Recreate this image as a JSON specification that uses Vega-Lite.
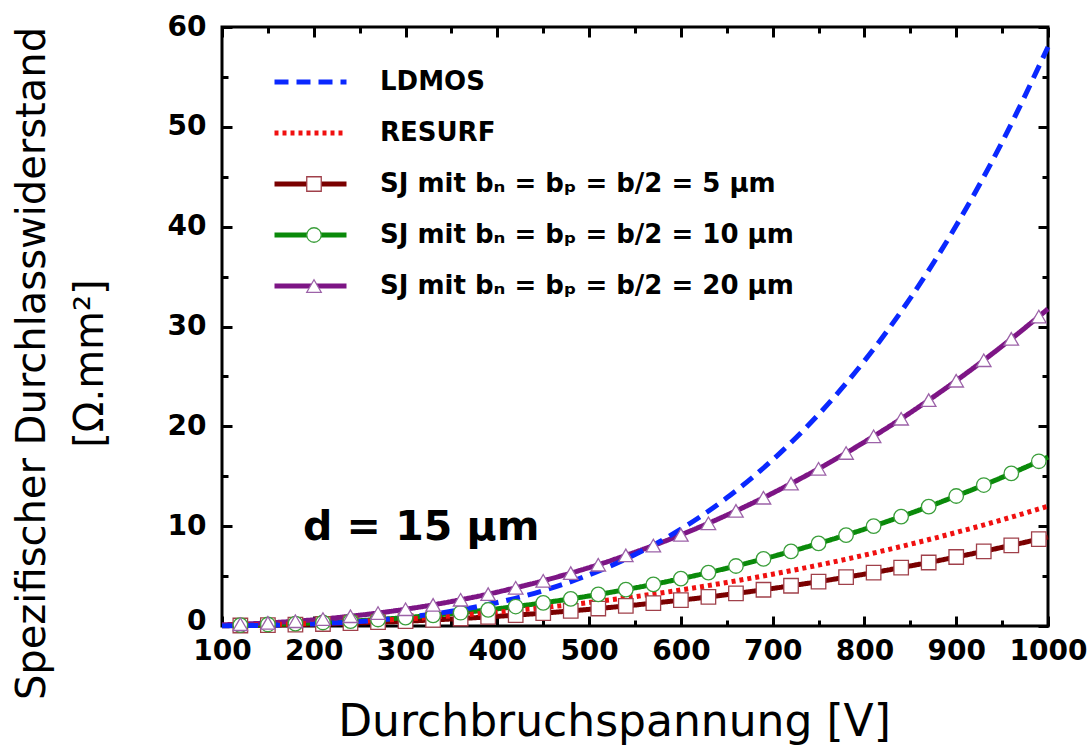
{
  "$schema": "https://vega.github.io/schema/vega-lite/v6.json",
  "width": 826,
  "height": 599,
  "autosize": "none",
  "padding": {"left": 222, "top": 27, "right": 40, "bottom": 119},
  "background": "white",
  "config": {
    "view": {"stroke": "black", "strokeWidth": 3},
    "axis": {"domain": false, "grid": false, "tickColor": "black", "tickWidth": 3, "labelFont": "DejaVu Sans", "labelFontWeight": "bold", "labelFontSize": 28, "labelColor": "black", "titleColor": "black"},
    "legend": {"labelFont": "DejaVu Sans", "labelFontWeight": "bold", "labelFontSize": 26, "labelColor": "black"}
  },
  "data": {"values": [
    {"s":"SJ5","V":100,"R":0.03},{"s":"SJ5","V":120,"R":0.05},{"s":"SJ5","V":150,"R":0.09},{"s":"SJ5","V":180,"R":0.14},{"s":"SJ5","V":210,"R":0.2},{"s":"SJ5","V":240,"R":0.28},{"s":"SJ5","V":270,"R":0.38},{"s":"SJ5","V":300,"R":0.48},{"s":"SJ5","V":330,"R":0.61},{"s":"SJ5","V":360,"R":0.75},{"s":"SJ5","V":390,"R":0.91},{"s":"SJ5","V":420,"R":1.09},{"s":"SJ5","V":450,"R":1.29},{"s":"SJ5","V":480,"R":1.51},{"s":"SJ5","V":510,"R":1.75},{"s":"SJ5","V":540,"R":2.01},{"s":"SJ5","V":570,"R":2.29},{"s":"SJ5","V":600,"R":2.59},{"s":"SJ5","V":630,"R":2.91},{"s":"SJ5","V":660,"R":3.26},{"s":"SJ5","V":690,"R":3.63},{"s":"SJ5","V":720,"R":4.03},{"s":"SJ5","V":750,"R":4.44},{"s":"SJ5","V":780,"R":4.89},{"s":"SJ5","V":810,"R":5.35},{"s":"SJ5","V":840,"R":5.85},{"s":"SJ5","V":870,"R":6.36},{"s":"SJ5","V":900,"R":6.91},{"s":"SJ5","V":930,"R":7.48},{"s":"SJ5","V":960,"R":8.08},{"s":"SJ5","V":990,"R":8.7},{"s":"SJ5","V":1000,"R":8.91},
    {"s":"SJ10","V":100,"R":0.05},{"s":"SJ10","V":120,"R":0.09},{"s":"SJ10","V":150,"R":0.15},{"s":"SJ10","V":180,"R":0.24},{"s":"SJ10","V":210,"R":0.35},{"s":"SJ10","V":240,"R":0.48},{"s":"SJ10","V":270,"R":0.65},{"s":"SJ10","V":300,"R":0.84},{"s":"SJ10","V":330,"R":1.07},{"s":"SJ10","V":360,"R":1.33},{"s":"SJ10","V":390,"R":1.62},{"s":"SJ10","V":420,"R":1.95},{"s":"SJ10","V":450,"R":2.32},{"s":"SJ10","V":480,"R":2.72},{"s":"SJ10","V":510,"R":3.16},{"s":"SJ10","V":540,"R":3.65},{"s":"SJ10","V":570,"R":4.17},{"s":"SJ10","V":600,"R":4.74},{"s":"SJ10","V":630,"R":5.35},{"s":"SJ10","V":660,"R":6.01},{"s":"SJ10","V":690,"R":6.72},{"s":"SJ10","V":720,"R":7.47},{"s":"SJ10","V":750,"R":8.27},{"s":"SJ10","V":780,"R":9.11},{"s":"SJ10","V":810,"R":10.01},{"s":"SJ10","V":840,"R":10.96},{"s":"SJ10","V":870,"R":11.96},{"s":"SJ10","V":900,"R":13.02},{"s":"SJ10","V":930,"R":14.12},{"s":"SJ10","V":960,"R":15.28},{"s":"SJ10","V":990,"R":16.5},{"s":"SJ10","V":1000,"R":16.92},
    {"s":"SJ20","V":100,"R":0.12},{"s":"SJ20","V":120,"R":0.18},{"s":"SJ20","V":150,"R":0.31},{"s":"SJ20","V":180,"R":0.48},{"s":"SJ20","V":210,"R":0.7},{"s":"SJ20","V":240,"R":0.98},{"s":"SJ20","V":270,"R":1.3},{"s":"SJ20","V":300,"R":1.68},{"s":"SJ20","V":330,"R":2.12},{"s":"SJ20","V":360,"R":2.63},{"s":"SJ20","V":390,"R":3.19},{"s":"SJ20","V":420,"R":3.83},{"s":"SJ20","V":450,"R":4.53},{"s":"SJ20","V":480,"R":5.3},{"s":"SJ20","V":510,"R":6.14},{"s":"SJ20","V":540,"R":7.07},{"s":"SJ20","V":570,"R":8.06},{"s":"SJ20","V":600,"R":9.13},{"s":"SJ20","V":630,"R":10.29},{"s":"SJ20","V":660,"R":11.53},{"s":"SJ20","V":690,"R":12.85},{"s":"SJ20","V":720,"R":14.26},{"s":"SJ20","V":750,"R":15.75},{"s":"SJ20","V":780,"R":17.33},{"s":"SJ20","V":810,"R":19.0},{"s":"SJ20","V":840,"R":20.76},{"s":"SJ20","V":870,"R":22.62},{"s":"SJ20","V":900,"R":24.57},{"s":"SJ20","V":930,"R":26.62},{"s":"SJ20","V":960,"R":28.76},{"s":"SJ20","V":990,"R":31.0},{"s":"SJ20","V":1000,"R":31.77},
    {"s":"RESURF","V":100,"R":0.05},{"s":"RESURF","V":150,"R":0.14},{"s":"RESURF","V":200,"R":0.27},{"s":"RESURF","V":250,"R":0.46},{"s":"RESURF","V":300,"R":0.71},{"s":"RESURF","V":350,"R":1.02},{"s":"RESURF","V":400,"R":1.39},{"s":"RESURF","V":450,"R":1.84},{"s":"RESURF","V":500,"R":2.35},{"s":"RESURF","V":550,"R":2.94},{"s":"RESURF","V":600,"R":3.61},{"s":"RESURF","V":650,"R":4.36},{"s":"RESURF","V":700,"R":5.19},{"s":"RESURF","V":750,"R":6.1},{"s":"RESURF","V":800,"R":7.1},{"s":"RESURF","V":850,"R":8.19},{"s":"RESURF","V":900,"R":9.37},{"s":"RESURF","V":950,"R":10.64},{"s":"RESURF","V":1000,"R":12.0},
    {"s":"LDMOS","V":100,"R":0.02},{"s":"LDMOS","V":150,"R":0.08},{"s":"LDMOS","V":200,"R":0.21},{"s":"LDMOS","V":250,"R":0.45},{"s":"LDMOS","V":300,"R":0.86},{"s":"LDMOS","V":350,"R":1.47},{"s":"LDMOS","V":400,"R":2.35},{"s":"LDMOS","V":450,"R":3.54},{"s":"LDMOS","V":500,"R":5.13},{"s":"LDMOS","V":550,"R":7.16},{"s":"LDMOS","V":600,"R":9.7},{"s":"LDMOS","V":650,"R":12.84},{"s":"LDMOS","V":700,"R":16.65},{"s":"LDMOS","V":750,"R":21.19},{"s":"LDMOS","V":800,"R":26.56},{"s":"LDMOS","V":850,"R":32.84},{"s":"LDMOS","V":900,"R":40.11},{"s":"LDMOS","V":950,"R":48.47},{"s":"LDMOS","V":1000,"R":58.0}
  ]},
  "layer": [
    {
      "mark": {"type": "line", "strokeWidth": 5, "interpolate": "monotone", "strokeCap": "butt"},
      "encoding": {
        "x": {"field": "V", "type": "quantitative", "scale": {"domain": [100, 1000], "nice": false, "zero": false},
          "axis": {"orient": "bottom", "values": [100,150,200,250,300,350,400,450,500,550,600,650,700,750,800,850,900,950,1000],
            "labelExpr": "datum.value % 100 === 0 ? datum.label : ''", "format": "d",
            "tickSize": {"condition": {"test": "datum.value % 100 === 0", "value": -10}, "value": -6},
            "labelPadding": 21, "labelFlush": false, "labelOverlap": false,
            "title": "Durchbruchspannung [V]", "titleFont": "DejaVu Sans", "titleFontSize": 44, "titleFontWeight": "normal",
            "titleX": 392, "titleY": 109, "titleBaseline": "alphabetic", "titleAlign": "center"}},
        "y": {"field": "R", "type": "quantitative", "scale": {"domain": [0, 60], "nice": false, "zero": false},
          "axis": {"orient": "left", "values": [0,5,10,15,20,25,30,35,40,45,50,55,60],
            "labelExpr": "datum.value % 10 === 0 ? datum.label : ''",
            "labelOffset": {"condition": {"test": "datum.value === 0", "value": -5}, "value": 0},
            "tickSize": {"condition": {"test": "datum.value % 10 === 0", "value": -10}, "value": -6},
            "labelPadding": 26, "labelFlush": false, "labelOverlap": false,
            "title": ["Spezifischer Durchlasswiderstand", "[Ω.mm²]"], "titleFont": "DejaVu Sans", "titleFontSize": 40, "titleFontWeight": "normal",
            "titleLineHeight": 58, "titleX": -210, "titleY": 336, "titleAngle": 270, "titleBaseline": "top", "titleAlign": "center"}},
        "color": {"field": "s", "type": "nominal",
          "scale": {"domain": ["LDMOS", "RESURF", "SJ5", "SJ10", "SJ20"], "range": ["#0a28ff", "#f01010", "#7a0000", "#0a8a0a", "#7d1585"]},
          "legend": {"title": null, "orient": "none", "legendX": 50, "legendY": 42, "padding": 0, "symbolType": "stroke", "symbolSize": 5184, "symbolStrokeWidth": 5, "clipHeight": 26, "rowPadding": 25, "labelOffset": 31, "labelLimit": 700,
            "labelExpr": "datum.label == 'SJ5' ? 'SJ mit bₙ = bₚ = b/2 = 5 μm' : datum.label == 'SJ10' ? 'SJ mit bₙ = bₚ = b/2 = 10 μm' : datum.label == 'SJ20' ? 'SJ mit bₙ = bₚ = b/2 = 20 μm' : datum.label"}},
        "strokeDash": {"field": "s", "type": "nominal",
          "scale": {"domain": ["LDMOS", "RESURF", "SJ5", "SJ10", "SJ20"], "range": [[14, 8], [4, 4], [1, 0], [1, 0], [1, 0]]},
          "legend": {"title": null, "orient": "none", "legendX": 50, "legendY": 42, "padding": 0, "symbolType": "stroke", "symbolSize": 5184, "symbolStrokeWidth": 5, "clipHeight": 26, "rowPadding": 25, "labelOffset": 31, "labelLimit": 700,
            "labelExpr": "datum.label == 'SJ5' ? 'SJ mit bₙ = bₚ = b/2 = 5 μm' : datum.label == 'SJ10' ? 'SJ mit bₙ = bₚ = b/2 = 10 μm' : datum.label == 'SJ20' ? 'SJ mit bₙ = bₚ = b/2 = 20 μm' : datum.label"}}
      }
    },
    {
      "transform": [{"filter": "datum.V >= 120 && datum.V <= 990 && indexof(datum.s, 'SJ') === 0"}],
      "mark": {"type": "point", "filled": true, "fill": "white", "size": 210, "strokeWidth": 1.3, "opacity": 1},
      "encoding": {
        "x": {"field": "V", "type": "quantitative",
          "axis": {"orient": "top", "values": [100,150,200,250,300,350,400,450,500,550,600,650,700,750,800,850,900,950,1000], "labels": false, "title": null,
            "tickSize": {"condition": {"test": "datum.value % 100 === 0", "value": -10}, "value": -6}}},
        "y": {"field": "R", "type": "quantitative",
          "axis": {"orient": "right", "values": [0,5,10,15,20,25,30,35,40,45,50,55,60], "labels": false, "title": null,
            "tickSize": {"condition": {"test": "datum.value % 10 === 0", "value": -10}, "value": -6}}},
        "shape": {"field": "s", "type": "nominal",
          "scale": {"domain": ["SJ5", "SJ10", "SJ20"], "range": ["square", "circle", "triangle-up"]},
          "legend": {"title": null, "orient": "none", "legendX": 79, "legendY": 144, "padding": 0, "symbolSize": 210, "symbolStrokeWidth": 1.3, "symbolFillColor": "white", "symbolOpacity": 1, "clipHeight": 26, "rowPadding": 25, "labelExpr": "''"}},
        "stroke": {"field": "s", "type": "nominal",
          "scale": {"domain": ["SJ5", "SJ10", "SJ20"], "range": ["#a0404a", "#3a9e3a", "#9c62a8"]},
          "legend": {"title": null, "orient": "none", "legendX": 79, "legendY": 144, "padding": 0, "symbolSize": 210, "symbolStrokeWidth": 1.3, "symbolFillColor": "white", "symbolOpacity": 1, "clipHeight": 26, "rowPadding": 25, "labelExpr": "''"}}
      }
    },
    {
      "data": {"values": [{"V": 317, "R": 8.6, "t": "d = 15 μm"}]},
      "mark": {"type": "text", "font": "DejaVu Sans", "fontWeight": "bold", "fontSize": 41, "align": "center", "baseline": "alphabetic", "color": "black"},
      "encoding": {
        "x": {"field": "V", "type": "quantitative", "axis": null},
        "y": {"field": "R", "type": "quantitative", "axis": null},
        "text": {"field": "t"}
      }
    }
  ],
  "resolve": {"axis": {"x": "independent", "y": "independent"}}
}
